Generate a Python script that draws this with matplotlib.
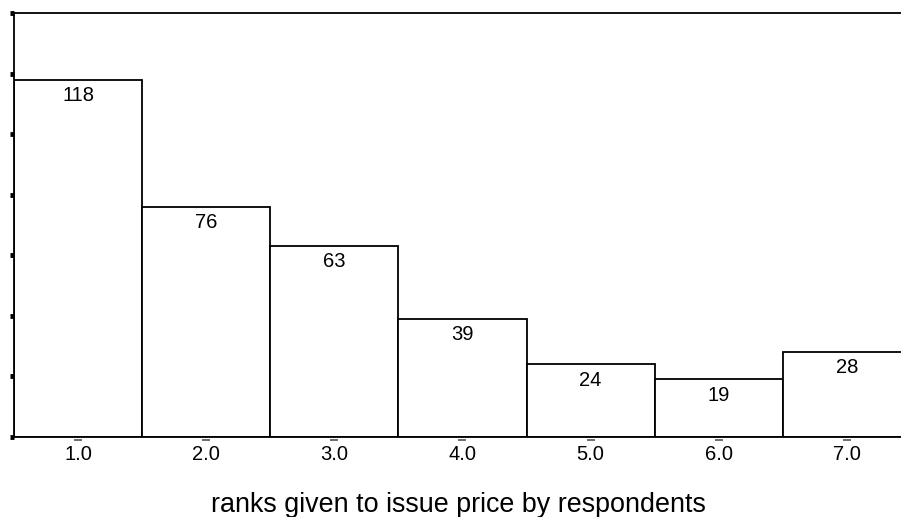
import numpy as np
import matplotlib.pyplot as plt

plt.rcParams['font.family'] = ['Liberation Sans', 'DejaVu Sans']

# frequencies of each rank
ranks = [1.0, 2.0, 3.0, 4.0, 5.0, 6.0, 7.0]
counts = [118, 76, 63, 39, 24, 19, 28]
tick_labels = ['1.0', '2.0', '3.0', '4.0', '5.0', '6.0', '7.0']

W, H = 901, 517
fig = plt.figure(figsize=(W / 100, H / 100), dpi=100)
ax = fig.add_axes([14 / W, (H - 437) / H, (911 - 14) / W, (437 - 13) / H])

ax.bar(ranks, counts, width=1.0, color='white', edgecolor='black', linewidth=1.3, zorder=2)

for x, c in zip(ranks, counts):
    ax.annotate(str(c), (x, c), xytext=(0, -4.5), textcoords='offset points',
                ha='center', va='top', fontsize=14.5)

ax.set_xlim(0.5, 7.5)
ax.set_ylim(0, 140)

# y axis: small square ticks, no labels
ax.set_yticks(np.arange(0, 141, 20))
ax.tick_params(axis='y', direction='out', length=3, width=3.5, color='black', labelleft=False)

# x axis: labels with little grey dashes under the baseline
ax.set_xticks(ranks)
ax.set_xticklabels(tick_labels, fontsize=14.5)
ax.tick_params(axis='x', length=0, pad=5.5)
ax.scatter(ranks, [-0.007] * len(ranks), marker='_', s=30, color='#555555',
           linewidths=1.2, transform=ax.get_xaxis_transform(), clip_on=False, zorder=3)

for side in ['top', 'left', 'bottom']:
    ax.spines[side].set_linewidth(1.3)
ax.spines['right'].set_visible(False)

ax.set_xlabel('ranks given to issue price by respondents', fontsize=19.4)
ax.xaxis.label.set_va('baseline')
ax.xaxis.set_label_coords((458 - 14) / 897, (437 - 512) / 424)

fig.savefig('out.png', dpi=100)
